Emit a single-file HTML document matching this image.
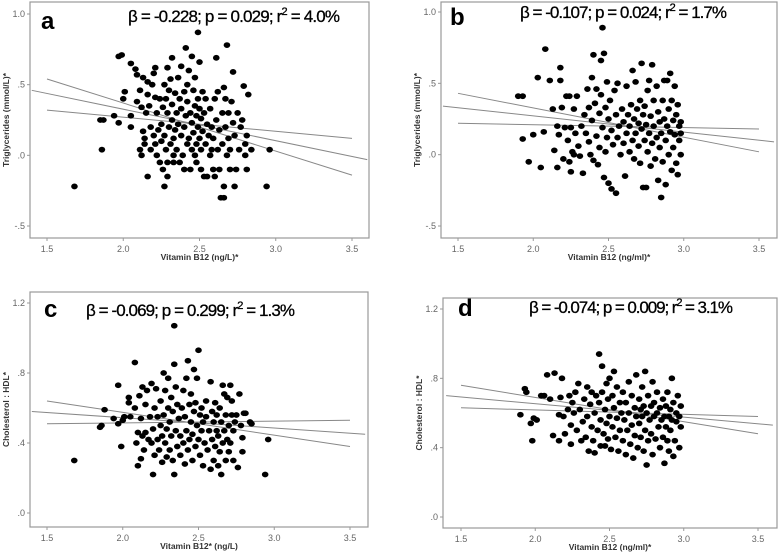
<!DOCTYPE html>
<html><head><meta charset="utf-8"><style>
body{margin:0;background:#fff}
svg{display:block;font-family:"Liberation Sans",sans-serif}
</style></head><body>
<svg id="fig" width="778" height="555" viewBox="0 0 778 555" xmlns="http://www.w3.org/2000/svg"></svg>
<script>
const xTicks=[1.5,2.0,2.5,3.0,3.5];
const xTickLabels=["1.5","2.0","2.5","3.0","3.5"];
const yTicksTG=[1.0,0.5,0.0,-0.5];
const yTickLabelsTG=["1.0",".5",".0","-.5"];
const yTicksHDL=[1.2,0.8,0.4,0.0];
const yTickLabelsHDL=["1.2",".8",".4",".0"];
const fitA=[0.46,-0.03], ciUpA=[0.54,-0.14], ciLoA=[0.32,0.12];
const fitB=[0.34,0.09], ciUpB=[0.43,0.02], ciLoB=[0.22,0.18];
const fitC=[0.58,0.45], ciUpC=[0.64,0.38], ciLoC=[0.51,0.53];
const fitD=[0.70,0.53], ciUpD=[0.76,0.48], ciLoD=[0.63,0.58];
const ptsA=[1.68,-0.22,1.86,0.04,1.85,0.25,1.87,0.25,1.94,0.28,1.97,0.23,1.97,0.70,1.99,0.71,2.0,0.40,2.01,0.45,2.05,0.65,2.05,0.28,2.05,0.20,2.08,0.61,2.09,0.57,2.09,0.38,2.11,0.46,2.11,0.04,2.12,0.0,2.13,0.17,2.12,0.34,2.13,0.55,2.14,0.12,2.14,0.08,2.15,0.30,2.16,-0.15,2.16,0.43,2.16,0.52,2.17,0.35,2.18,0.20,2.18,0.04,2.19,0.50,2.20,0.58,2.20,0.14,2.21,0.62,2.21,0.41,2.21,0.08,2.22,0.30,2.22,0.0,2.23,0.18,2.24,0.40,2.24,-0.05,2.25,0.10,2.25,0.22,2.26,-0.10,2.26,0.34,2.27,0.50,2.27,-0.22,2.27,0.14,2.28,0.40,2.28,0.04,2.29,0.30,2.29,0.62,2.29,-0.05,2.29,-0.15,2.30,0.20,2.30,0.46,2.31,0.54,2.31,0.08,2.32,0.36,2.32,0.25,2.32,0.69,2.33,0.12,2.33,0.0,2.33,-0.05,2.34,0.44,2.34,0.18,2.35,0.30,2.35,0.04,2.36,0.55,2.36,0.22,2.37,-0.05,2.37,0.40,2.38,0.14,2.38,0.33,2.38,0.63,2.39,0.0,2.40,0.45,2.40,0.20,2.40,-0.10,2.41,0.76,2.41,0.28,2.42,0.08,2.42,0.50,2.42,0.38,2.43,0.12,2.43,0.60,2.44,-0.10,2.44,0.30,2.45,0.04,2.45,0.70,2.45,0.23,2.46,0.46,2.46,0.16,2.47,0.0,2.47,0.35,2.47,0.55,2.48,0.08,2.48,0.28,2.48,-0.05,2.49,0.87,2.49,0.40,2.49,0.20,2.50,0.12,2.50,0.66,2.50,0.33,2.51,0.04,2.51,0.26,2.51,-0.10,2.52,0.45,2.52,0.17,2.53,-0.15,2.53,0.30,2.54,0.08,2.54,0.40,2.55,-0.15,2.55,0.22,2.56,0.14,2.57,0.33,2.57,0.0,2.58,0.04,2.58,0.20,2.59,-0.10,2.59,0.12,2.60,0.40,2.60,-0.15,2.61,0.69,2.61,0.25,2.62,0.04,2.62,0.45,2.63,0.18,2.63,-0.10,2.64,-0.30,2.65,0.30,2.65,0.08,2.66,-0.30,2.66,0.48,2.66,-0.22,2.67,0.40,2.67,0.20,2.68,0.0,2.68,0.78,2.69,0.12,2.69,0.30,2.70,-0.10,2.70,0.04,2.71,0.38,2.72,0.59,2.72,0.23,2.73,0.14,2.73,-0.22,2.74,-0.10,2.75,0.30,2.76,0.04,2.77,0.20,2.78,0.25,2.79,0.49,2.80,0.08,2.80,0.0,2.81,0.14,2.81,-0.10,2.82,0.43,2.84,0.04,2.94,-0.22,2.96,0.04];
const ptsB=[1.90,0.41,1.93,0.41,1.93,0.11,1.97,-0.05,2.0,0.14,2.03,0.54,2.05,-0.09,2.07,0.16,2.08,0.74,2.11,0.52,2.13,0.32,2.14,0.03,2.16,-0.09,2.16,0.20,2.17,0.14,2.18,0.61,2.18,0.52,2.19,0.33,2.20,-0.03,2.21,0.19,2.22,0.41,2.23,0.10,2.24,0.41,2.24,-0.05,2.25,-0.12,2.25,0.19,2.26,0.02,2.27,0.32,2.27,0.0,2.28,0.15,2.29,0.41,2.30,0.06,2.31,-0.01,2.32,0.20,2.33,-0.13,2.34,0.28,2.35,0.15,2.36,0.46,2.37,0.09,2.37,0.33,2.38,0.0,2.39,0.54,2.39,0.24,2.40,0.70,2.40,-0.04,2.41,0.36,2.42,0.13,2.42,0.46,2.43,-0.07,2.44,0.29,2.44,0.05,2.45,0.42,2.45,0.66,2.46,0.89,2.46,0.19,2.47,0.71,2.47,-0.16,2.48,0.33,2.48,0.02,2.49,0.51,2.49,0.12,2.50,-0.20,2.50,0.25,2.51,0.38,2.52,-0.24,2.52,0.17,2.53,0.07,2.54,0.45,2.55,0.28,2.55,-0.27,2.56,0.12,2.56,0.50,2.57,0.20,2.58,0.0,2.59,0.32,2.60,0.23,2.60,0.08,2.61,-0.15,2.62,0.48,2.62,0.15,2.63,0.28,2.64,0.02,2.64,0.20,2.65,0.35,2.66,0.10,2.66,0.59,2.67,-0.03,2.67,0.25,2.68,0.15,2.68,0.51,2.69,0.32,2.70,0.06,2.70,0.22,2.71,-0.06,2.71,0.38,2.72,0.18,2.72,0.64,2.73,0.28,2.73,-0.23,2.74,0.10,2.74,0.34,2.75,0.21,2.75,-0.23,2.76,0.02,2.76,0.45,2.77,0.15,2.77,0.52,2.78,0.27,2.78,-0.08,2.79,0.08,2.79,0.63,2.80,0.20,2.80,0.38,2.81,-0.03,2.82,0.12,2.82,0.48,2.83,-0.18,2.83,0.30,2.84,0.23,2.84,0.05,2.85,-0.30,2.85,0.15,2.86,0.38,2.86,-0.05,2.87,0.52,2.87,0.25,2.88,-0.21,2.88,0.10,2.89,0.20,2.89,0.52,2.90,0.0,2.90,0.32,2.91,0.16,2.91,0.57,2.92,-0.11,2.92,0.38,2.93,0.24,2.93,0.05,2.94,0.48,2.94,0.14,2.95,-0.06,2.95,0.28,2.96,0.35,2.96,-0.14,2.97,0.10,2.97,0.20,2.98,0.0,2.98,0.23,2.98,0.15];
const ptsC=[1.68,0.30,1.85,0.49,1.86,0.50,1.88,0.59,1.94,0.54,1.97,0.73,1.97,0.51,1.99,0.38,2.0,0.53,2.01,0.55,2.04,0.66,2.04,0.63,2.05,0.55,2.08,0.86,2.08,0.60,2.09,0.40,2.10,0.27,2.10,0.46,2.11,0.67,2.12,0.54,2.12,0.31,2.13,0.72,2.13,0.44,2.14,0.36,2.15,0.62,2.15,0.46,2.16,0.70,2.17,0.42,2.18,0.55,2.19,0.40,2.19,0.74,2.20,0.22,2.20,0.48,2.21,0.60,2.21,0.33,2.22,0.71,2.23,0.42,2.23,0.55,2.24,0.36,2.25,0.50,2.25,0.64,2.26,0.29,2.26,0.44,2.27,0.80,2.27,0.56,2.28,0.40,2.28,0.70,2.29,0.32,2.29,0.48,2.30,0.60,2.30,0.77,2.31,0.36,2.31,0.52,2.32,0.44,2.32,0.66,2.33,0.30,2.33,0.58,2.34,0.22,2.34,1.07,2.34,0.85,2.35,0.47,2.35,0.72,2.36,0.38,2.36,0.62,2.37,0.54,2.38,0.33,2.38,0.44,2.39,0.60,2.40,0.40,2.40,0.70,2.41,0.28,2.41,0.55,2.42,0.77,2.42,0.47,2.43,0.87,2.43,0.36,2.44,0.62,2.44,0.42,2.45,0.52,2.45,0.68,2.46,0.30,2.46,0.45,2.47,0.82,2.47,0.58,2.48,0.38,2.48,0.63,2.49,0.50,2.49,0.77,2.50,0.93,2.50,0.42,2.51,0.56,2.51,0.33,2.52,0.60,2.52,0.47,2.53,0.27,2.53,0.52,2.54,0.40,2.55,0.64,2.55,0.55,2.56,0.36,2.57,0.47,2.58,0.75,2.58,0.25,2.59,0.58,2.59,0.42,2.60,0.30,2.60,0.52,2.61,0.63,2.61,0.38,2.62,0.47,2.62,0.56,2.63,0.27,2.63,0.44,2.64,0.60,2.64,0.35,2.65,0.22,2.65,0.52,2.66,0.73,2.66,0.40,2.67,0.47,2.67,0.68,2.68,0.30,2.68,0.56,2.69,0.42,2.69,0.66,2.70,0.35,2.70,0.50,2.71,0.73,2.71,0.40,2.72,0.56,2.72,0.64,2.73,0.30,2.73,0.47,2.74,0.52,2.75,0.56,2.76,0.26,2.77,0.68,2.78,0.50,2.79,0.35,2.79,0.43,2.80,0.57,2.81,0.57,2.84,0.52,2.85,0.51,2.94,0.22,2.96,0.42];
const ptsD=[1.90,0.59,1.93,0.74,1.94,0.72,1.97,0.54,1.98,0.44,1.99,0.57,2.01,0.56,2.04,0.70,2.06,0.70,2.08,0.82,2.10,0.68,2.12,0.47,2.13,0.83,2.16,0.59,2.16,0.44,2.17,0.69,2.18,0.80,2.19,0.58,2.20,0.48,2.22,0.62,2.23,0.70,2.24,0.42,2.24,0.53,2.25,0.66,2.26,0.60,2.27,0.72,2.28,0.50,2.29,0.77,2.30,0.62,2.31,0.44,2.32,0.55,2.33,0.68,2.34,0.46,2.35,0.75,2.35,0.58,2.36,0.38,2.37,0.65,2.38,0.52,2.38,0.72,2.39,0.44,2.40,0.60,2.40,0.37,2.41,0.70,2.42,0.50,2.43,0.66,2.43,0.94,2.44,0.56,2.44,0.41,2.45,0.87,2.45,0.72,2.46,0.48,2.47,0.62,2.47,0.41,2.48,0.77,2.48,0.54,2.49,0.68,2.49,0.45,2.50,0.58,2.50,0.80,2.51,0.39,2.52,0.52,2.52,0.70,2.53,0.63,2.53,0.84,2.54,0.46,2.55,0.57,2.55,0.75,2.56,0.38,2.57,0.66,2.57,0.50,2.58,0.60,2.59,0.44,2.59,0.72,2.60,0.56,2.61,0.36,2.61,0.66,2.62,0.50,2.63,0.78,2.63,0.60,2.64,0.42,2.65,0.70,2.65,0.53,2.66,0.34,2.67,0.63,2.67,0.47,2.68,0.82,2.68,0.58,2.69,0.40,2.70,0.68,2.70,0.54,2.71,0.62,2.71,0.46,2.72,0.75,2.72,0.58,2.73,0.38,2.73,0.64,2.74,0.50,2.74,0.84,2.75,0.30,2.75,0.60,2.76,0.44,2.76,0.70,2.77,0.56,2.78,0.64,2.78,0.48,2.79,0.36,2.79,0.78,2.80,0.58,2.80,0.66,2.81,0.45,2.82,0.60,2.82,0.72,2.83,0.52,2.84,0.40,2.84,0.63,2.85,0.56,2.86,0.68,2.86,0.46,2.87,0.31,2.87,0.58,2.88,0.52,2.88,0.64,2.89,0.44,2.89,0.72,2.90,0.58,2.90,0.38,2.91,0.62,2.91,0.50,2.92,0.80,2.92,0.56,2.93,0.35,2.93,0.66,2.94,0.44,2.95,0.60,2.95,0.55,2.96,0.70,2.97,0.40,2.97,0.58,2.98,0.64,2.98,0.52];

const NS="http://www.w3.org/2000/svg";
const svg=document.getElementById('fig');
function mk(tag,attrs,parent){const e=document.createElementNS(NS,tag);for(const k in attrs)e.setAttribute(k,attrs[k]);(parent||svg).appendChild(e);return e;}

const panels=[
 {id:'a',L:30,T:2,R:369,B:238,x0:47,x1:352,yv0:1.0,yp0:14,yv1:-0.5,yp1:226,yt:yTicksTG,yl:yTickLabelsTG,pts:ptsA,fit:fitA,up:ciUpA,lo:ciLoA,
  letter:[41,29],ann:[128,22,212],stat:"β = -0.228; p = 0.029; r",r2:"= 4.0%",xt:"Vitamin B12 (ng/L)*",yTitle:"Triglycerides (mmol/L)*"},
 {id:'b',L:441,T:2,R:777,B:238,x0:458,x1:759,yv0:1.0,yp0:12,yv1:-0.5,yp1:226,yt:yTicksTG,yl:yTickLabelsTG,pts:ptsB,fit:fitB,up:ciUpB,lo:ciLoB,
  letter:[450,25],ann:[520,18,207],stat:"β = -0.107; p = 0.024; r",r2:"= 1.7%",xt:"Vitamin B12 (ng/ml)*",yTitle:"Triglycerides (mmol/L)*"},
 {id:'c',L:30,T:292,R:368,B:527,x0:47,x1:350,yv0:1.2,yp0:303,yv1:0.0,yp1:513,yt:yTicksHDL,yl:yTickLabelsHDL,pts:ptsC,fit:fitC,up:ciUpC,lo:ciLoC,
  letter:[44,317],ann:[86,316,209],stat:"β = -0.069; p = 0.299; r",r2:"= 1.3%",xt:"Vitamin B12* (ng/L)",yTitle:"Cholesterol : HDL*"},
 {id:'d',L:443,T:298,R:777,B:528,x0:461,x1:758,yv0:1.2,yp0:309,yv1:0.0,yp1:517,yt:yTicksHDL,yl:yTickLabelsHDL,pts:ptsD,fit:fitD,up:ciUpD,lo:ciLoD,
  letter:[458,316],ann:[529,313,204],stat:"β = -0.074; p = 0.009; r",r2:"= 3.1%",xt:"Vitamin B12 (ng/ml)*",yTitle:"Cholesterol : HDL*"}
];

panels.forEach(p=>{
 const sx=v=>p.x0+(v-1.5)/(3.5-1.5)*(p.x1-p.x0);
 const sy=v=>p.yp0+(v-p.yv0)/(p.yv1-p.yv0)*(p.yp1-p.yp0);
 const g=mk('g',{});
 
 
 const fr=mk('rect',{x:p.L,y:p.T,width:p.R-p.L,height:p.B-p.T,fill:'none',stroke:'#999','stroke-width':1.2},g);
 
 
 xTicks.forEach((v,i)=>{
  const x=sx(v);
  mk('line',{x1:x,x2:x,y1:p.B,y2:p.B+3,stroke:'#999'},g);
  const t=mk('text',{x:x,y:p.B+14,'font-size':9,fill:'#666','text-anchor':'middle'},g);
  t.textContent=xTickLabels[i];
  
  
 });
 p.yt.forEach((v,i)=>{
  const y=sy(v);
  mk('line',{x1:p.L-3,x2:p.L,y1:y,y2:y,stroke:'#999'},g);
  const t=mk('text',{x:p.L-5,y:y+3,'font-size':9,fill:'#666','text-anchor':'end'},g);
  t.textContent=p.yl[i];
  
  
 });
 const lines=[[1.4,p.fit[0],3.6,p.fit[1]],[1.5,p.up[0],3.5,p.up[1]],[1.5,p.lo[0],3.5,p.lo[1]]];
 lines.forEach((l,i)=>{
  const X0=sx(l[0]),X1=sx(l[2]);
  const x1=Math.max(X0,p.L),x2=Math.min(X1,p.R);
  const val=x=>l[1]+(l[3]-l[1])*((x-X0)/(X1-X0));
  const ln=mk('line',{x1:x1,y1:sy(val(x1)),x2:x2,y2:sy(val(x2)),stroke:'#888','stroke-width':1},g);
  
  
 });
 for(let i=0;i<p.pts.length;i+=2){
  const c=mk('ellipse',{cx:sx(p.pts[i]),cy:sy(p.pts[i+1]),rx:3.3,ry:2.9,fill:'#000'},g);
  
  
 }
 const le=mk('text',{x:p.letter[0],y:p.letter[1],'font-size':24,'font-weight':'bold',fill:'#000'},g);
 le.textContent=p.id;
 
 
 const an=mk('text',{x:p.ann[0],y:p.ann[1],'font-size':17,fill:'#000',stroke:'#000','stroke-width':0.3},g);
 
 
 const s1=mk('tspan',{},an);s1.textContent=p.stat;
 const s2=mk('tspan',{dy:-7,'font-size':11},an);s2.textContent='2';
 const s3=mk('tspan',{dy:7},an);s3.textContent=' '+p.r2;
 an.setAttribute('textLength',p.ann[2]);
 const xt=mk('text',{x:(p.L+p.R)/2,y:p.B+22,'font-size':8.5,'font-weight':'bold',fill:'#333','text-anchor':'middle'},g);
 xt.textContent=p.xt;
 
 
 const cy=(p.T+p.B)/2, cx=p.L-21;
 const yt=mk('text',{x:cx,y:cy,'font-size':8.5,'font-weight':'bold',fill:'#333','text-anchor':'middle',transform:`rotate(-90 ${cx} ${cy})`},g);
 yt.textContent=p.yTitle;
 
 
});
</script>
</body></html>
